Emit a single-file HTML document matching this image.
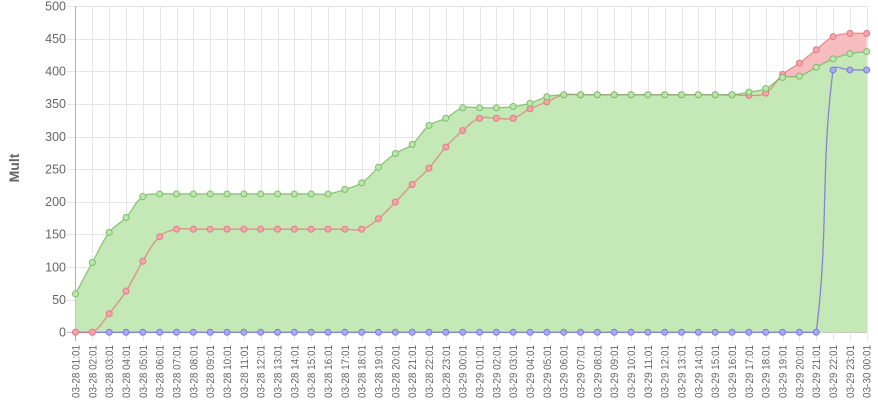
<!DOCTYPE html>
<html><head><meta charset="utf-8"><style>
html,body{margin:0;padding:0;background:#fff;}
svg{display:block;}
text{font-family:"Liberation Sans",Arial,sans-serif;}
</style></head><body>
<svg id="c" width="878" height="410" viewBox="0 0 878 410" xmlns="http://www.w3.org/2000/svg"></svg>
<script>
(function(){
var svg=document.getElementById('c');
var NS='http://www.w3.org/2000/svg';
function el(n,a,p){var e=document.createElementNS(NS,n);for(var k in a)e.setAttribute(k,a[k]);(p||svg).appendChild(e);return e;}
var X0=75.5,X1=866.7,N=48,dx=(X1-X0)/(N-1);
var Y0=332.3,YT=6,sc=(Y0-YT)/500;
function X(i){return X0+i*dx;}
function Y(v){return Y0-v*sc;}
// grid horizontal
for(var v=0;v<=500;v+=50){
  var y=Math.round(Y(v))+0.5; if(v==500)y=6.5;
  el('line',{x1:67,x2:X1,y1:y,y2:y,stroke:v==0?'#bfbfbf':'#e6e6e6','stroke-width':1});
  var t=el('text',{x:66,y:Y(v)+4.3,'text-anchor':'end','font-size':12.5,fill:'#666'});t.textContent=v;
}
// grid vertical + labels
var labels=[];
for(var i=0;i<N;i++){
  var h=(i+1)%24, d=(i<23)?'03-28':(i<47?'03-29':'03-30');
  labels.push(d+' '+(h<10?'0':'')+h+':01');
}
for(var i=0;i<N;i++){
  var x=Math.round(X(i))+0.5; if(i==0)x=75.5;
  el('line',{x1:x,x2:x,y1:6,y2:341,stroke:i==0?'#b0b0b0':'#e6e6e6','stroke-width':1});
  var t=el('text',{transform:'translate('+(X(i)+4)+',345) rotate(-90)','text-anchor':'end','font-size':11,fill:'#666',textLength:53,lengthAdjust:'spacingAndGlyphs'});
  t.textContent=labels[i];
}
var tt=el('text',{transform:'translate(19,168) rotate(-90)','text-anchor':'middle','font-size':14,'font-weight':'bold',fill:'#666'});tt.textContent='Mult';

var green=[59,107,153,176,208,212,212,212,212,212,212,212,212,212,212,212,219,229,253,274,288,317,328,344,344,344,346,351,361,364,364,364,364,364,364,364,364,364,364,364,368,373.5,390.5,392.5,406,419,427,430];
var red=[0,0,28.5,63,109,146.5,158,158,158,158,158,158,158,158,158,158,158,158,174,199.5,226.5,251.5,284,309,328,328,328,342.5,353,364,364,364,364,364,364,364,364,364,364,364,363,366.5,395,412.5,433,453,458,458];
var blue=[];for(var i=0;i<N;i++)blue.push(i>=45?402:0);

function pts(data){var p=[];for(var i=0;i<data.length;i++)p.push({x:X(i),y:Y(data[i])});return p;}
function spline(p){
  var t=0.4;
  for(var i=0;i<p.length;i++){
    var prev=p[i-1]||p[i],cur=p[i],next=p[i+1]||p[i];
    var d01=Math.hypot(cur.x-prev.x,cur.y-prev.y),d12=Math.hypot(next.x-cur.x,next.y-cur.y);
    var s01=d01/(d01+d12),s12=d12/(d01+d12);if(isNaN(s01))s01=0;if(isNaN(s12))s12=0;
    var fa=t*s01,fb=t*s12;
    cur.cpx0=cur.x-fa*(next.x-prev.x);cur.cpy0=cur.y-fa*(next.y-prev.y);
    cur.cpx1=cur.x+fb*(next.x-prev.x);cur.cpy1=cur.y+fb*(next.y-prev.y);
    function cl(v,a,b){return Math.max(a,Math.min(b,v));}
    cur.cpx0=cl(cur.cpx0,X0,X1);cur.cpx1=cl(cur.cpx1,X0,X1);
    cur.cpy0=cl(cur.cpy0,YT,Y0);cur.cpy1=cl(cur.cpy1,YT,Y0);
  }
  var d='M'+p[0].x+','+p[0].y;
  for(var i=1;i<p.length;i++){
    d+=' C'+p[i-1].cpx1+','+p[i-1].cpy1+' '+p[i].cpx0+','+p[i].cpy0+' '+p[i].x+','+p[i].y;
  }
  return d;
}
var pb=pts(blue),pr=pts(red),pg=pts(green);
var db=spline(pb),dr=spline(pr),dg=spline(pg);
function fillD(d){return d+' L'+X1+','+Y0+' L'+X0+','+Y0+' Z';}
// fills (blue, red, green)
el('path',{d:fillD(db),fill:'#c9c9f3'});
el('path',{d:fillD(dr),fill:'#f7bcc0'});
el('path',{d:fillD(dg),fill:'#c5e8b7'});
// lines & points (blue, red, green)
function drawSet(p,d,line,pf,ps){
  el('path',{d:d,fill:'none',stroke:line,'stroke-width':1.3});
  for(var i=0;i<p.length;i++)el('circle',{cx:p[i].x,cy:p[i].y,r:3,fill:pf,stroke:ps,'stroke-width':1});
}
drawSet(pb,db,'#8585d6','#aaaaf2','#7c7cd8');
drawSet(pr,dr,'rgba(222,120,110,0.75)','#f6a5aa','#e07c84');
drawSet(pg,dg,'rgba(110,180,90,0.75)','#bde6ac','#7dbd6c');
})();
</script>
</body></html>
